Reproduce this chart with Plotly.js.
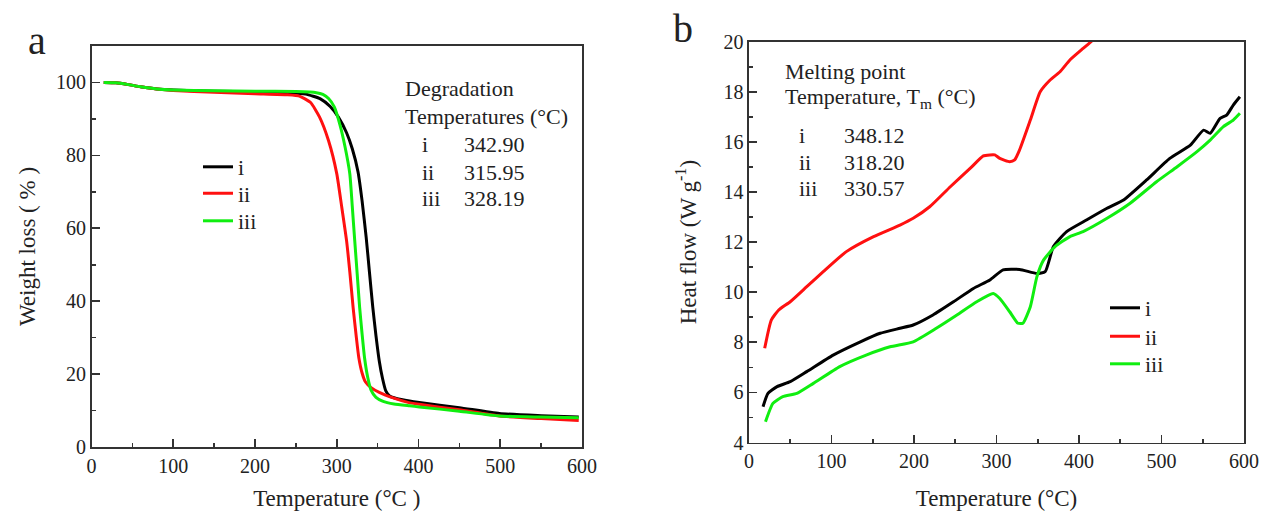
<!DOCTYPE html>
<html>
<head>
<meta charset="utf-8">
<script src="https://cdn.plot.ly/plotly-3.0.1.min.js"></script>
<style>
  html, body { margin: 0; padding: 0; background: #ffffff; }
  #chart { width: 1263px; height: 511px; }
</style>
</head>
<body>
<div id="chart"></div>
<script>
// ---- (a) TGA: weight loss vs temperature ----
const tgaTempI   = [15, 30, 45, 60, 80, 100, 150, 200, 240, 262, 280, 292, 302, 312, 319, 326, 331, 336, 340, 344, 348, 352, 356, 360, 365, 373, 389, 401, 450, 499, 550, 596];
const tgaWeightI = [100, 99.9, 99.4, 98.8, 98.2, 97.9, 97.6, 97.4, 97.2, 96.8, 95.5, 93.4, 90.5, 86.2, 81.8, 75.5, 67.5, 57.5, 48, 38.5, 30.5, 23.6, 18.8, 15.4, 13.9, 13.3, 12.6, 12.2, 10.8, 9.2, 8.6, 8.2];

const tgaTempII   = [15, 30, 45, 60, 80, 100, 150, 200, 240, 255, 268, 279, 290, 300, 306, 312, 316, 320, 324, 327, 331, 335, 342, 352, 370, 386, 401, 450, 499, 550, 596];
const tgaWeightII = [100, 99.9, 99.4, 98.8, 98.2, 97.8, 97.3, 96.9, 96.6, 96.2, 94.5, 90.5, 84, 75, 66, 56.6, 48, 38.3, 30, 24.5, 20.3, 17.9, 16.3, 15.0, 13.4, 12.3, 11.7, 10.2, 8.5, 7.8, 7.3];

const tgaTempIII   = [15, 30, 45, 60, 80, 100, 150, 200, 250, 275, 283, 290, 297, 304, 310, 316, 319, 322, 325, 328, 331, 334, 338, 342, 348, 356, 370, 389, 401, 450, 499, 550, 596];
const tgaWeightIII = [100, 99.9, 99.4, 98.8, 98.2, 97.9, 97.7, 97.6, 97.5, 97.2, 96.7, 95.6, 93.3, 88.3, 82.5, 74.9, 66, 56.6, 47.5, 38.3, 31, 24.5, 19, 15.6, 13.6, 12.6, 11.8, 11.3, 11.0, 9.8, 8.5, 8.2, 8.0];

const tgaLabels = ["Degradation", "Temperatures (°C)"];
const tgaRoman  = ["i", "ii", "iii"];
const tgaDegT   = ["342.90", "315.95", "328.19"];

// ---- (b) DSC: heat flow vs temperature ----
const dscTempI = [17, 23, 34, 50, 70, 102, 135, 159, 183, 199, 223, 248, 272, 292, 308, 328, 349, 359, 369, 385, 409, 434, 454, 482, 510, 535, 551, 559, 571, 579, 587, 595];
const dscHeatI = [5.43, 5.96, 6.23, 6.43, 6.83, 7.49, 8.02, 8.36, 8.56, 8.69, 9.09, 9.62, 10.15, 10.49, 10.89, 10.91, 10.75, 10.82, 11.82, 12.42, 12.88, 13.35, 13.68, 14.48, 15.34, 15.87, 16.47, 16.34, 16.94, 17.07, 17.47, 17.80];

const dscTempII = [19, 27, 36, 50, 70, 90, 118, 151, 183, 199, 219, 244, 268, 284, 292, 298, 304, 316, 322, 328, 341, 353, 365, 377, 389, 405, 417, 425];
const dscHeatII = [7.76, 8.89, 9.29, 9.62, 10.22, 10.82, 11.62, 12.22, 12.68, 12.95, 13.41, 14.21, 14.94, 15.44, 15.48, 15.48, 15.34, 15.21, 15.28, 15.68, 16.87, 18.0, 18.47, 18.80, 19.27, 19.73, 20.07, 20.3];

const dscTempIII = [20, 29, 41, 58, 78, 110, 142, 171, 199, 227, 252, 276, 296, 304, 316, 326, 332, 341, 349, 357, 371, 389, 405, 434, 462, 494, 519, 543, 559, 575, 587, 595];
const dscHeatIII = [4.83, 5.56, 5.83, 5.96, 6.36, 7.03, 7.49, 7.82, 8.02, 8.56, 9.09, 9.62, 9.95, 9.75, 9.22, 8.76, 8.76, 9.42, 10.62, 11.28, 11.82, 12.22, 12.42, 12.95, 13.55, 14.41, 15.01, 15.61, 16.07, 16.61, 16.87, 17.14];

const dscLabels = ["Melting point", "Temperature, T<sub>m</sub> (°C)"];
const dscRoman  = ["i", "ii", "iii"];
const dscMeltT  = ["348.12", "318.20", "330.57"];

const seriesNames  = ["i", "ii", "iii"];
const seriesColors = ["#000000", "#ff1010", "#10ee10"];

// ---- page geometry helpers (pixels -> paper fractions) ----
const W = 1263, H = 511;
const fx = px => px / W;
const fy = py => 1 - py / H;

const SERIF = "Liberation Serif, Times New Roman, serif";
const INK = "#222222";
const AXC = "#333333";

// one legend box per entry so the rows can sit at their own heights
const legendIdsA = ["legend", "legend3", "legend4"];
const legendIdsB = ["legend2", "legend5", "legend6"];

function lineTrace(x, y, i, xa, ya, legendId) {
  return {
    x: x, y: y, type: "scatter", mode: "lines",
    name: seriesNames[i], xaxis: xa, yaxis: ya, legend: legendId,
    line: { color: seriesColors[i], width: 3, shape: "spline", smoothing: 0.5 },
    hoverinfo: "skip"
  };
}

const data = [
  lineTrace(tgaTempI, tgaWeightI, 0, "x", "y", legendIdsA[0]),
  lineTrace(tgaTempII, tgaWeightII, 1, "x", "y", legendIdsA[1]),
  lineTrace(tgaTempIII, tgaWeightIII, 2, "x", "y", legendIdsA[2]),
  lineTrace(dscTempI, dscHeatI, 0, "x2", "y2", legendIdsB[0]),
  lineTrace(dscTempII, dscHeatII, 1, "x2", "y2", legendIdsB[1]),
  lineTrace(dscTempIII, dscHeatIII, 2, "x2", "y2", legendIdsB[2])
];

function axisBase(extra) {
  return Object.assign({
    showgrid: false, zeroline: false,
    showline: true, linewidth: 1.6, linecolor: AXC, mirror: true,
    ticks: "inside", ticklen: 8, tickwidth: 1.6, tickcolor: AXC,
    tickfont: { family: SERIF, size: 20, color: INK },
    automargin: false, fixedrange: true
  }, extra);
}

const annotations = [];
function textAt(px, py, txt, size) {
  annotations.push({
    xref: "paper", yref: "paper", x: fx(px), y: fy(py),
    xanchor: "left", yanchor: "middle", showarrow: false,
    text: txt, font: { family: SERIF, size: size || 22, color: INK }
  });
}

// panel letters
textAt(26, 41, "a", 40);
textAt(671, 29, "b", 40);

// (a) degradation temperatures
textAt(403, 89, tgaLabels[0]);
textAt(403, 117, tgaLabels[1]);
[145, 172, 198].forEach((py, k) => {
  textAt(420, py, tgaRoman[k]);
  textAt(462, py, tgaDegT[k]);
});

// (b) melting temperatures
textAt(783, 71, dscLabels[0]);
textAt(783, 98, dscLabels[1]);
[135, 162, 188].forEach((py, k) => {
  textAt(797, py, dscRoman[k]);
  textAt(842, py, dscMeltT[k]);
});

function legendBox(px, pyTop) {
  return {
    x: fx(px), y: fy(pyTop), xanchor: "left", yanchor: "top",
    bgcolor: "rgba(0,0,0,0)", borderwidth: 0,
    font: { family: SERIF, size: 22, color: INK }
  };
}

const titleFont = { family: SERIF, size: 23, color: INK };

const layout = {
  width: W, height: H,
  margin: { l: 0, r: 0, t: 0, b: 0 },
  paper_bgcolor: "#ffffff", plot_bgcolor: "#ffffff",
  showlegend: true,
  xaxis: axisBase({
    domain: [fx(91.5), fx(582)], anchor: "y", range: [0, 600], dtick: 100, tick0: 0,
    minor: { ticks: "inside", ticklen: 4, tickwidth: 1.6, tickcolor: AXC, dtick: 50 },
    title: { text: "Temperature (°C )", font: titleFont, standoff: 15 }
  }),
  yaxis: axisBase({
    domain: [fy(447), fy(46)], anchor: "x", range: [0, 110], dtick: 20, tick0: 0,
    minor: { ticks: "inside", ticklen: 4, tickwidth: 1.6, tickcolor: AXC, dtick: 10 },
    title: { text: "Weight loss ( % )", font: titleFont, standoff: 14 }
  }),
  xaxis2: axisBase({
    domain: [fx(749), fx(1244)], anchor: "y2", range: [0, 600], dtick: 100, tick0: 0,
    minor: { ticks: "inside", ticklen: 4, tickwidth: 1.6, tickcolor: AXC, dtick: 50 },
    title: { text: "Temperature (°C)", font: titleFont, standoff: 22 }
  }),
  yaxis2: axisBase({
    domain: [fy(442.5), fy(41.7)], anchor: "x2", range: [4, 20], dtick: 2, tick0: 0,
    minor: { ticks: "inside", ticklen: 4, tickwidth: 1.6, tickcolor: AXC, dtick: 1 },
    title: { text: "Heat flow (W g<sup>-1</sup>)", font: titleFont, standoff: 20 }
  }),
  legend:  legendBox(198, 146),
  legend3: legendBox(198, 172.5),
  legend4: legendBox(198, 200),
  legend2: legendBox(1105, 287),
  legend5: legendBox(1105, 315.5),
  legend6: legendBox(1105, 343),
  annotations: annotations
};

Plotly.newPlot("chart", data, layout, { displayModeBar: false, staticPlot: true });
</script>
</body>
</html>
